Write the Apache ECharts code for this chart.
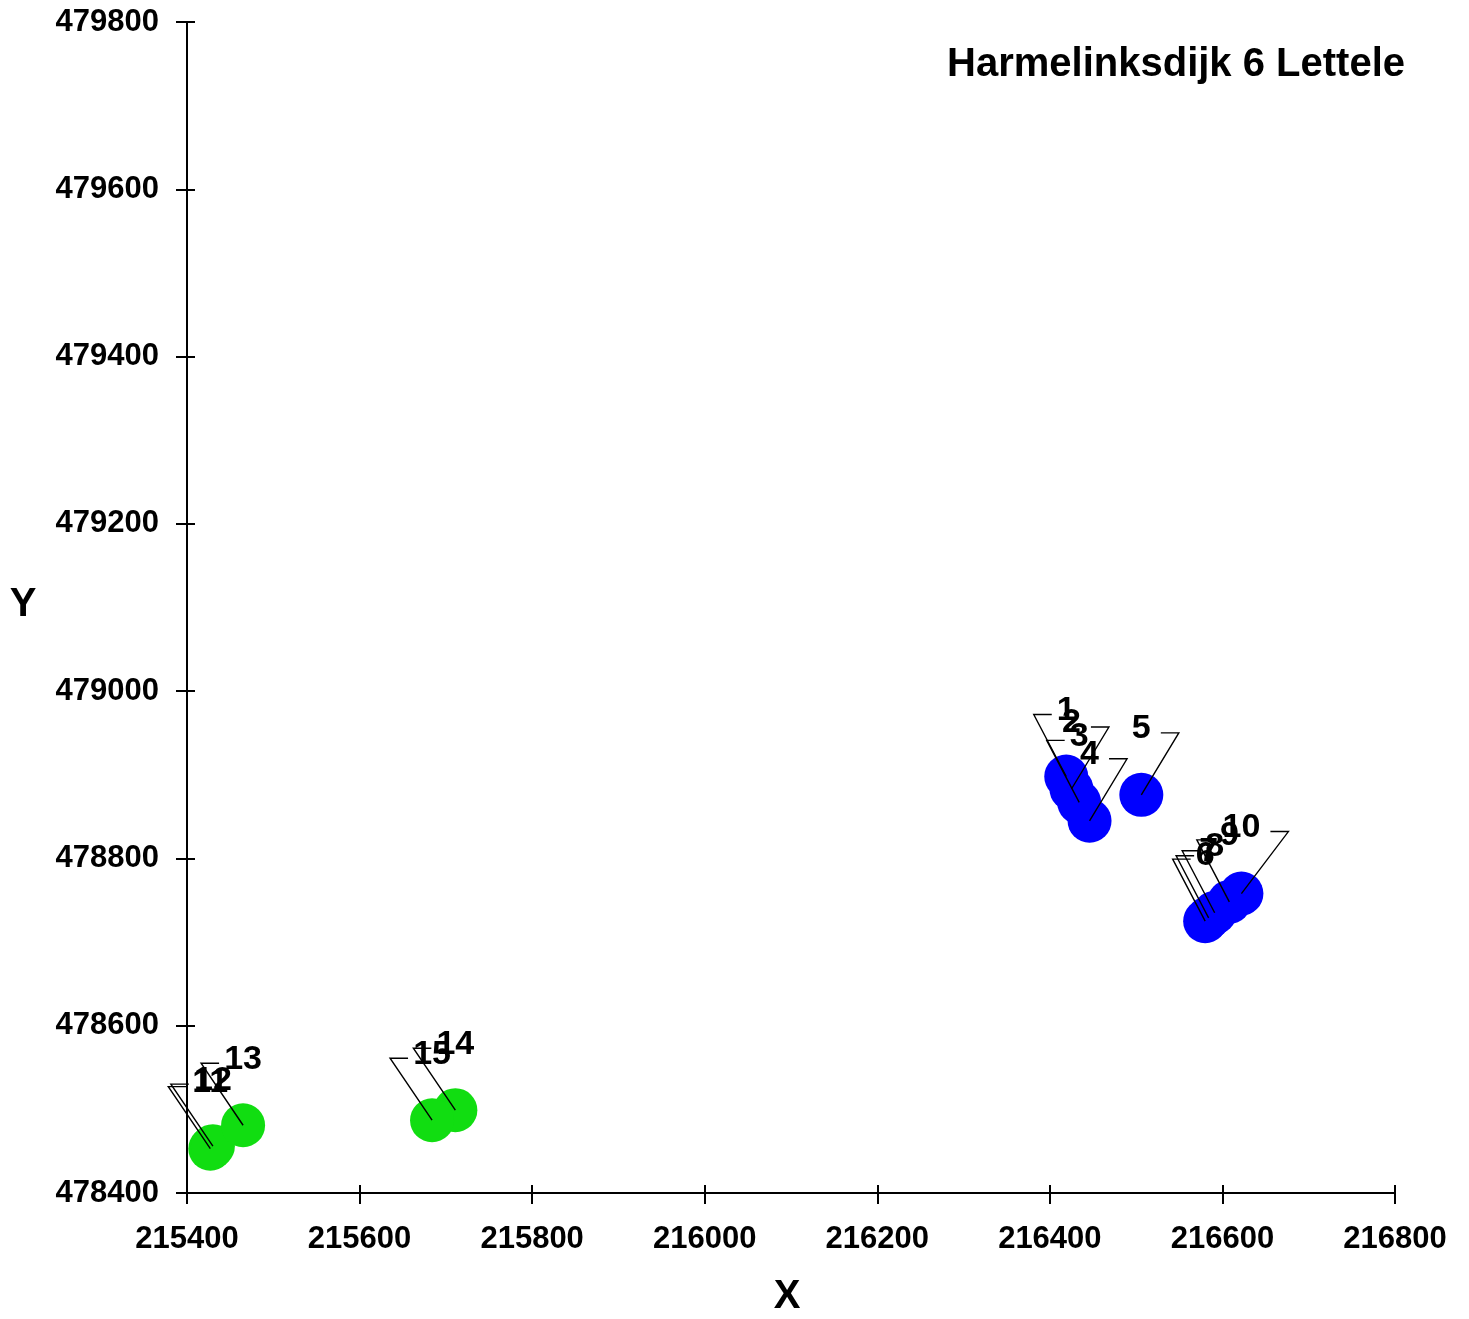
<!DOCTYPE html>
<html>
<head>
<meta charset="utf-8">
<title>Harmelinksdijk 6 Lettele</title>
<script src="https://cdn.jsdelivr.net/npm/echarts@6/dist/echarts.min.js"></script>
<style>
  html, body { margin: 0; padding: 0; background: #ffffff; }
  #chart { width: 1469px; height: 1319px; }
</style>
</head>
<body>
<div id="chart"></div>
<script>
// Measuring points (RD coordinates), numbered 1..15
const blueIds = [1, 2, 3, 4, 5, 6, 7, 8, 9, 10];
const blueX = [216419, 216425, 216434, 216446, 216506, 216580, 216584, 216591, 216608, 216622];
const blueY = [478898, 478883, 478867, 478845, 478876, 478725, 478729, 478735, 478748, 478758];

const greenIds = [11, 12, 13, 14, 15];
const greenX = [215427, 215430, 215465, 215711, 215684];
const greenY = [478453, 478456, 478481, 478499, 478487];

// Axis ranges
const xMin = 215400, xMax = 216800;
const yMin = 478400, yMax = 479800;
const tickStep = 200;

// Which side of the number the callout bar sits on
const calloutSide = {
  1: 'L', 2: 'R', 3: 'L', 4: 'R', 5: 'R',
  6: 'L', 7: 'L', 8: 'L', 9: 'L', 10: 'R',
  11: 'L', 12: 'L', 13: 'L', 14: 'L', 15: 'L'
};

const FONT = '"Liberation Sans", Arial, sans-serif';

function rows(ids, xs, ys) {
  return ids.map((id, i) => [xs[i], ys[i], id]);
}
const blueData = rows(blueIds, blueX, blueY);
const greenData = rows(greenIds, greenX, greenY);

// Number label above each point with a small bar and a leader line back to it
function renderCallout(params, api) {
  const id = api.value(2);
  const p = api.coord([api.value(0), api.value(1)]);
  const tx = p[0];
  const ty = p[1] - 66;
  const text = String(id);
  const halfW = text.length * 9.5;
  const barY = ty + 4;
  const side = calloutSide[id] || 'L';
  let near, far;
  if (side === 'L') { near = tx - halfW - 5; far = near - 18; }
  else { near = tx + halfW + 10; far = near + 18; }
  return {
    type: 'group',
    children: [
      {
        type: 'polyline',
        shape: { points: [[near, barY], [far, barY], [p[0], p[1]]] },
        style: { stroke: '#000000', lineWidth: 1.4, fill: null }
      },
      {
        type: 'text',
        style: {
          text: text, x: tx, y: ty,
          align: 'center', verticalAlign: 'middle',
          font: 'bold 34px ' + FONT, fill: '#000000'
        }
      }
    ]
  };
}

const axisLineStyle = { color: '#000000', width: 2 };
const plainNumber = (v) => String(v);

const chart = echarts.init(document.getElementById('chart'), null, { renderer: 'canvas' });
chart.setOption({
  backgroundColor: '#ffffff',
  animation: false,
  grid: { left: 187, right: 74, top: 22, bottom: 126 },
  xAxis: [
    {
      type: 'value', min: xMin, max: xMax, interval: tickStep,
      position: 'bottom',
      axisLine: { show: true, onZero: false, lineStyle: axisLineStyle },
      axisTick: { show: true, inside: false, length: 11, lineStyle: axisLineStyle },
      axisLabel: { show: true, margin: 31, formatter: plainNumber, color: '#000000', fontFamily: FONT, fontWeight: 'bold', fontSize: 31 },
      splitLine: { show: false }
    },
    {
      type: 'value', min: xMin, max: xMax, interval: tickStep,
      position: 'bottom',
      axisLine: { show: false, onZero: false },
      axisTick: { show: true, inside: true, length: 8, lineStyle: axisLineStyle },
      axisLabel: { show: false },
      splitLine: { show: false }
    }
  ],
  yAxis: [
    {
      type: 'value', min: yMin, max: yMax, interval: tickStep,
      position: 'left',
      axisLine: { show: true, onZero: false, lineStyle: axisLineStyle },
      axisTick: { show: true, inside: false, length: 11, lineStyle: axisLineStyle },
      axisLabel: { show: true, margin: 28, formatter: plainNumber, color: '#000000', fontFamily: FONT, fontWeight: 'bold', fontSize: 31 },
      splitLine: { show: false }
    },
    {
      type: 'value', min: yMin, max: yMax, interval: tickStep,
      position: 'left',
      axisLine: { show: false, onZero: false },
      axisTick: { show: true, inside: true, length: 8, lineStyle: axisLineStyle },
      axisLabel: { show: false },
      splitLine: { show: false }
    }
  ],
  graphic: [
    {
      type: 'text', right: 64, top: 45,
      style: { text: 'Harmelinksdijk 6 Lettele', font: 'bold 40px ' + FONT, fill: '#000000' }
    },
    {
      type: 'text', x: 787, y: 1297,
      style: { text: 'X', font: 'bold 40px ' + FONT, fill: '#000000', align: 'center', verticalAlign: 'middle' }
    },
    {
      type: 'text', x: 23, y: 605,
      style: { text: 'Y', font: 'bold 40px ' + FONT, fill: '#000000', align: 'center', verticalAlign: 'middle' }
    }
  ],
  series: [
    {
      type: 'scatter', xAxisIndex: 0, yAxisIndex: 0,
      symbol: 'circle', symbolSize: 44,
      itemStyle: { color: '#0000ff', opacity: 1 },
      data: blueData, z: 2
    },
    {
      type: 'scatter', xAxisIndex: 0, yAxisIndex: 0,
      symbol: 'circle', symbolSize: 44,
      itemStyle: { color: '#11dd11', opacity: 1 },
      data: greenData, z: 2
    },
    {
      type: 'custom', xAxisIndex: 0, yAxisIndex: 0,
      renderItem: renderCallout,
      encode: { x: 0, y: 1 },
      data: blueData.concat(greenData),
      clip: false, z: 5, silent: true
    }
  ]
});
</script>
</body>
</html>
